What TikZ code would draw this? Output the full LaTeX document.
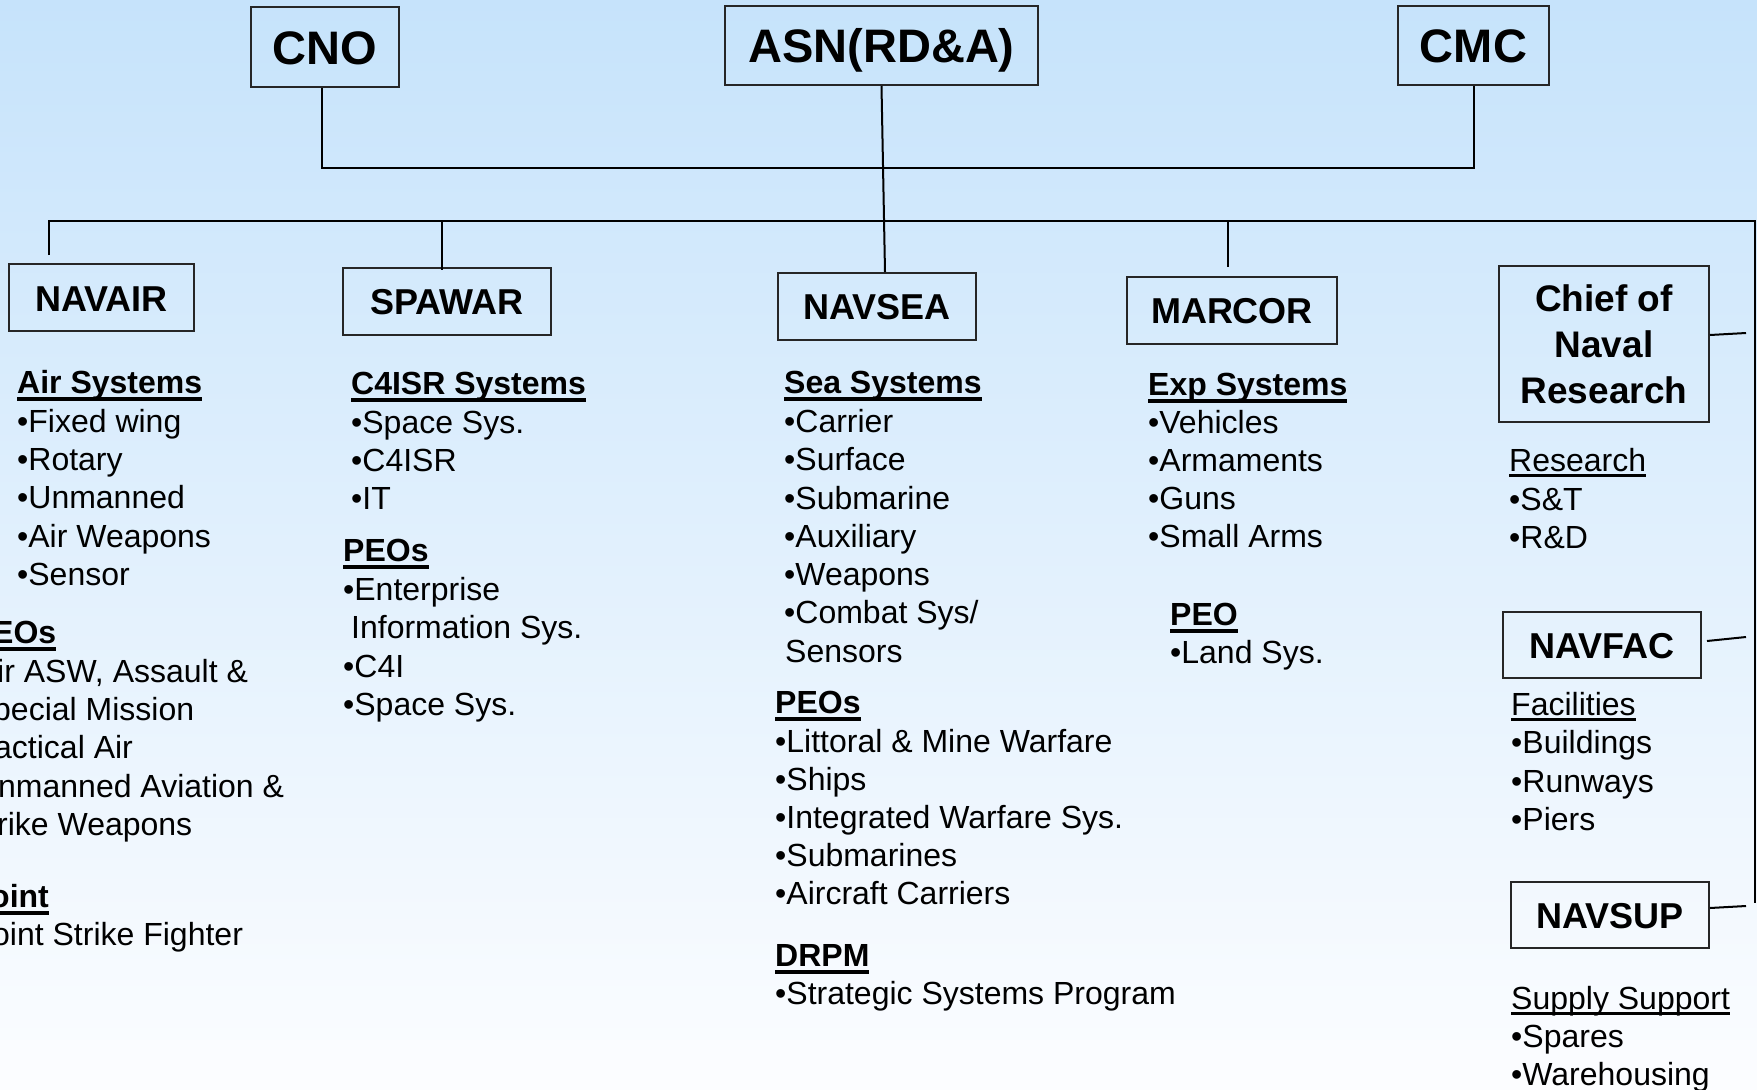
\documentclass[tikz,border=0pt]{standalone}
\usepackage{fontspec}
\setmainfont{Liberation Sans}
\newcommand\ulb[1]{\setbox0=\hbox{#1}\rlap{\rule[-7.5pt]{\wd0}{4pt}}\box0}
\newcommand\ulr[1]{\setbox0=\hbox{#1}\rlap{\rule[-5.5pt]{\wd0}{2.5pt}}\box0}
\definecolor{bgtop}{RGB}{198,227,251}
\definecolor{bgbot}{RGB}{252,253,255}
\tikzset{
  box/.style={draw=black!85, line width=2pt, inner sep=0pt, font=\bfseries\fontsize{36}{40}\selectfont},
  bigbox/.style={box, font=\bfseries\fontsize{47}{50}\selectfont},
  txt/.style={anchor=base west, inner sep=0pt, font=\fontsize{32}{38}\selectfont},
  hdr/.style={txt, font=\bfseries\fontsize{32}{38}\selectfont},
  conn/.style={line width=2pt, draw=black},
}
\begin{document}
\begin{tikzpicture}[x=1pt, y=-1pt]
\useasboundingbox (0,0) rectangle (1757,1090);
\clip (0,0) rectangle (1757,1090);
\shade[top color=bgtop, bottom color=bgbot] (0,0) rectangle (1757,1090);

% top boxes
\node[bigbox, minimum width=148pt, minimum height=80pt, text height=34pt, text depth=0pt] (cno) at (325,47) {CNO};
\node[bigbox, minimum width=313pt, minimum height=79pt, text height=33pt, text depth=0pt] (asn) at (881.5,45.5) {ASN(RD\&A)};
\node[bigbox, minimum width=151pt, minimum height=79pt, text height=33pt, text depth=0pt] (cmc) at (1473.5,45.5) {CMC};

% second row boxes
\node[box, minimum width=185pt, minimum height=67pt, text height=27pt, text depth=0pt] (navair) at (101.5,297.5) {NAVAIR};
\node[box, minimum width=208pt, minimum height=67pt, text height=25pt, text depth=0pt] (spawar) at (447,301.5) {SPAWAR};
\node[box, minimum width=198pt, minimum height=67pt, text height=25pt, text depth=0pt] (navsea) at (877,306.5) {NAVSEA};
\node[box, minimum width=210pt, minimum height=67pt, text height=25pt, text depth=0pt] (marcor) at (1232,310.5) {MARCOR};
\node[box, align=center, font=\bfseries\fontsize{37}{46}\selectfont, minimum width=210pt, minimum height=156pt] (cnr) at (1604,344) {Chief of\\Naval\\Research};
\node[box, minimum width=198pt, minimum height=66pt, text height=26pt, text depth=0pt] (navfac) at (1602,645) {NAVFAC};
\node[box, minimum width=198pt, minimum height=66pt, text height=26pt, text depth=0pt] (navsup) at (1610,915) {NAVSUP};

% connector coordinates
\coordinate (t1) at (322,168);
\coordinate (t2) at (1474,168);
\coordinate (sx) at (885,0);
\coordinate (na) at (49,255);
\coordinate (b0) at (49,221);
\coordinate (b1) at (1755,221);
\coordinate (b2) at (1755,903);
\coordinate (sp) at (442,221);
\coordinate (mc) at (1228,221);
\coordinate (q1) at (1746,333);
\coordinate (q2) at (1746,637);
\coordinate (q3) at (1746,906);

\draw[conn] (t1 |- cno.south) -- (t1) -- (t2) -- (t2 |- cmc.south);
\draw[conn] (asn.south) -- (sx |- navsea.north);
\draw[conn] (na) -- (b0) -- (b1) -- (b2);
\draw[conn] (sp) -- ([yshift=-3pt]sp |- spawar.north);
\draw[conn] (mc) -- ([yshift=9pt]mc |- marcor.north);
\draw[conn] ([yshift=9pt]cnr.east) -- (q1);
\draw[conn] ([shift={(5pt,4pt)}]navfac.east) -- (q2);
\draw[conn] ([yshift=7pt]navsup.east) -- (q3);

% NAVAIR column
\node[hdr] (a0) at (17,393) {\ulb{Air Systems}};
\node[txt] (a1) at (17,432) {•Fixed wing};
\node[txt] (a2) at (17,470) {•Rotary};
\node[txt] (a3) at (17,508) {•Unmanned};
\node[txt] (a4) at (17,547) {•Air Weapons};
\node[txt] (a5) at (17,585) {•Sensor};
\node[hdr] (a6) at (-8,643) {\ulb{EOs}};
\node[txt] (a7) at (-3,682) {ir ASW, Assault \&};
\node[txt] (a8) at (-7,720) {pecial Mission};
\node[txt] (a9) at (-6,758) {actical Air};
\node[txt] (a10) at (-2,797) {nmanned Aviation \&};
\node[txt] (a11) at (-3,835) {rike Weapons};
\node[hdr] (a12) at (-10,907) {\ulb{oint}};
\node[txt] (a13) at (-8,945) {oint Strike Fighter};

% SPAWAR column
\node[hdr] (s0) at (351,394) {\ulb{C4ISR Systems}};
\node[txt] (s1) at (351,433) {•Space Sys.};
\node[txt] (s2) at (351,471) {•C4ISR};
\node[txt] (s3) at (351,509) {•IT};
\node[hdr] (s4) at (343,561) {\ulb{PEOs}};
\node[txt] (s5) at (343,600) {•Enterprise};
\node[txt] (s6) at (351,638) {Information Sys.};
\node[txt] (s7) at (343,677) {•C4I};
\node[txt] (s8) at (343,715) {•Space Sys.};

% NAVSEA column
\node[hdr] (e0) at (784,393) {\ulb{Sea Systems}};
\node[txt] (e1) at (784,432) {•Carrier};
\node[txt] (e2) at (784,470) {•Surface};
\node[txt] (e3) at (784,509) {•Submarine};
\node[txt] (e4) at (784,547) {•Auxiliary};
\node[txt] (e5) at (784,585) {•Weapons};
\node[txt] (e6) at (784,623) {•Combat Sys/};
\node[txt] (e7) at (785,662) {Sensors};
\node[hdr] (e8) at (775,713) {\ulb{PEOs}};
\node[txt] (e9) at (775,752) {•Littoral \& Mine Warfare};
\node[txt] (e10) at (775,790) {•Ships};
\node[txt] (e11) at (775,828) {•Integrated Warfare Sys.};
\node[txt] (e12) at (775,866) {•Submarines};
\node[txt] (e13) at (775,904) {•Aircraft Carriers};
\node[hdr] (e14) at (775,966) {\ulb{DRPM}};
\node[txt] (e15) at (775,1004) {•Strategic Systems Program};

% MARCOR column
\node[hdr] (m0) at (1148,395) {\ulb{Exp Systems}};
\node[txt] (m1) at (1148,433) {•Vehicles};
\node[txt] (m2) at (1148,471) {•Armaments};
\node[txt] (m3) at (1148,509) {•Guns};
\node[txt] (m4) at (1148,547) {•Small Arms};
\node[hdr] (m5) at (1170,625) {\ulb{PEO}};
\node[txt] (m6) at (1170,663) {•Land Sys.};

% CNR column
\node[txt] (r0) at (1509,471) {\ulr{Research}};
\node[txt] (r1) at (1509,510) {•S\&T};
\node[txt] (r2) at (1509,548) {•R\&D};

% NAVFAC column
\node[txt] (f0) at (1511,715) {\ulr{Facilities}};
\node[txt] (f1) at (1511,753) {•Buildings};
\node[txt] (f2) at (1511,792) {•Runways};
\node[txt] (f3) at (1511,830) {•Piers};

% NAVSUP column
\node[txt] (u0) at (1511,1009) {\ulr{Supply Support}};
\node[txt] (u1) at (1511,1047) {•Spares};
\node[txt] (u2) at (1511,1085) {•Warehousing};
\end{tikzpicture}
\end{document}
